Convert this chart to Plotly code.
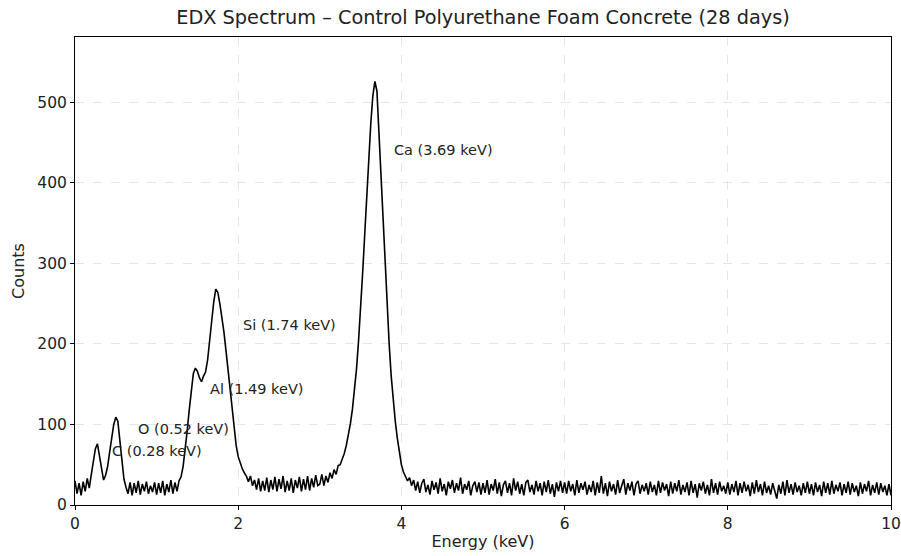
import plotly.graph_objects as go

ENERGY_STEP = 0.025  # keV per channel

counts_0 = [30, 14, 27, 12, 29, 17, 33, 21, 38, 52, 70, 76, 62, 45, 31, 37, 48, 66, 85, 100,
            109, 104, 80, 52, 32, 22, 14, 28, 12, 27, 15, 30, 13, 26, 17, 29, 14, 24, 16, 28]
counts_1 = [13, 27, 15, 30, 12, 26, 16, 31, 14, 28, 17, 30, 35, 48, 68, 92, 118, 142, 163, 170,
            166, 158, 153, 160, 165, 180, 205, 230, 252, 268, 264, 250, 235, 215, 192, 168, 140, 115, 92, 74]
counts_2 = [60, 52, 45, 40, 36, 29, 36, 24, 31, 19, 33, 17, 30, 18, 34, 16, 31, 19, 35, 17,
            32, 20, 36, 16, 30, 18, 33, 15, 31, 21, 35, 17, 32, 19, 36, 18, 33, 22, 37, 24]
counts_3 = [26, 38, 24, 36, 28, 40, 33, 44, 38, 49, 50, 57, 64, 74, 86, 101, 119, 141, 169, 204,
            242, 288, 335, 384, 430, 474, 508, 526, 514, 462, 400, 345, 295, 248, 200, 160, 128, 104, 83, 64]
counts_4 = [50, 41, 36, 30, 34, 24, 31, 18, 29, 15, 27, 32, 16, 25, 13, 30, 19, 28, 14, 33,
            17, 26, 12, 29, 20, 31, 15, 27, 18, 34, 14, 26, 19, 30, 12, 24, 29, 16, 28, 13]
counts_5 = [27, 15, 31, 13, 26, 18, 32, 14, 28, 11, 25, 30, 15, 27, 12, 33, 18, 29, 14, 26,
            12, 28, 31, 16, 25, 13, 30, 17, 27, 12, 29, 16, 31, 14, 26, 10, 28, 17, 30, 15]
counts_6 = [28, 14, 30, 17, 26, 12, 31, 15, 27, 19, 29, 13, 25, 16, 30, 12, 28, 15, 36, 14,
            27, 11, 29, 17, 26, 13, 31, 15, 24, 32, 13, 27, 18, 29, 12, 26, 30, 14, 25, 17]
counts_7 = [27, 13, 29, 16, 25, 12, 30, 15, 28, 18, 26, 11, 29, 14, 27, 17, 31, 13, 25, 16,
            28, 12, 30, 15, 26, 9, 27, 18, 29, 14, 25, 12, 32, 15, 27, 13, 29, 17, 24, 14]
counts_8 = [28, 13, 26, 16, 30, 12, 27, 15, 29, 17, 25, 11, 28, 14, 31, 16, 26, 12, 29, 15,
            24, 13, 27, 17, 8, 25, 14, 29, 12, 31, 15, 26, 13, 28, 16, 24, 12, 27, 15, 29]
counts_9 = [14, 26, 12, 28, 16, 25, 11, 29, 15, 27, 13, 30, 14, 25, 17, 28, 12, 26, 15, 29,
            13, 27, 16, 24, 11, 28, 14, 26, 17, 30, 12, 25, 15, 28, 13, 27, 16, 24, 12, 26]
counts_end = [12]

counts = (counts_0 + counts_1 + counts_2 + counts_3 + counts_4 + counts_5 +
          counts_6 + counts_7 + counts_8 + counts_9 + counts_end)
energy = [round(i * ENERGY_STEP, 3) for i in range(len(counts))]

# Peak labels: text, label x (keV), label y (counts)
peak_labels = ["C (0.28 keV)", "O (0.52 keV)", "Al (1.49 keV)", "Si (1.74 keV)", "Ca (3.69 keV)"]
label_x = [0.43, 0.75, 1.63, 2.04, 3.885]
label_y = [67, 94, 144, 223, 441]

FONT = "DejaVu Sans"
TXT = "#222222"

fig = go.Figure()
fig.add_trace(go.Scatter(x=energy, y=counts, mode="lines",
                         line=dict(color="black", width=1.6), showlegend=False,
                         hoverinfo="skip"))

for t, xx, yy in zip(peak_labels, label_x, label_y):
    fig.add_annotation(x=xx, y=yy, text=t, showarrow=False, xanchor="left", yanchor="middle",
                       font=dict(family=FONT, size=14.5, color=TXT))

axis_common = dict(showline=True, linecolor="black", linewidth=1, mirror=True,
                   ticks="outside", ticklen=4, tickcolor="black", tickwidth=1,
                   showgrid=True, gridcolor="#e6e6e6", griddash="dash", gridwidth=1,
                   zeroline=False, automargin=False,
                   tickfont=dict(family=FONT, size=15.5, color=TXT))

fig.update_layout(
    width=901, height=556,
    margin=dict(l=75, r=10, t=37, b=51),
    paper_bgcolor="white", plot_bgcolor="white",
    title=dict(text="EDX Spectrum – Control Polyurethane Foam Concrete (28 days)",
               x=(75 + 891) / 2 / 901, xanchor="center", y=1 - 17 / 556, yanchor="middle",
               font=dict(family=FONT, size=19.3, color=TXT)),
    xaxis=dict(range=[0, 10], tickvals=[0, 2, 4, 6, 8, 10],
               title=dict(text="Energy (keV)", standoff=4,
                          font=dict(family=FONT, size=16, color=TXT)),
               **axis_common),
    yaxis=dict(range=[0, 581], tickvals=[0, 100, 200, 300, 400, 500],
               title=dict(text="Counts", standoff=8,
                          font=dict(family=FONT, size=16, color=TXT)),
               **axis_common),
)

fig.write_html("out.html")
